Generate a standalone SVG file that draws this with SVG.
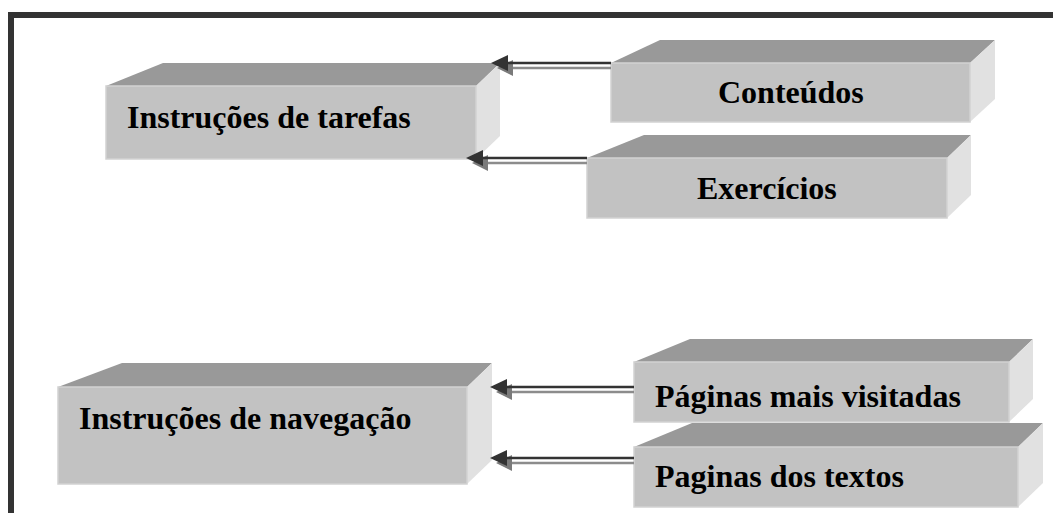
<svg xmlns="http://www.w3.org/2000/svg" width="1053" height="513" viewBox="0 0 1053 513">
<style>
.top{fill:#999999}
.front{fill:#c2c2c2;stroke:#d2d2d2;stroke-width:1.5}
.side{fill:#e1e1e1}
.lbl{font-family:"Liberation Serif","Times New Roman",serif;font-weight:bold;font-size:32px;fill:#000}
.shaft{stroke:#333333;stroke-width:2.4;fill:none}
.shadow{stroke:#8c8c8c;stroke-width:2.4;fill:none}
.head{fill:#333333}
.headsh{fill:#7a7a7a}
</style>
<rect x="0" y="0" width="1053" height="513" fill="#ffffff"/>
<g id="frame">
<rect x="8" y="12" width="1045" height="6" fill="#333333"/>
<rect x="8" y="12" width="6" height="501" fill="#333333"/>
</g>
<g id="node-tarefas">
<polygon class="top" points="106,86 163,63 500,63 476,86"/>
<polygon class="side" points="476,86 500,63 500,136 476,159"/>
<rect class="front" x="106" y="86" width="370" height="73"/>
<text class="lbl" x="127" y="128">Instruções de tarefas</text>
</g>
<g id="node-conteudos">
<polygon class="top" points="611,63 660,40 995,40 970,63"/>
<polygon class="side" points="970,63 995,40 995,99 970,122"/>
<rect class="front" x="611" y="63" width="359" height="59"/>
<text class="lbl" x="718" y="103">Conteúdos</text>
</g>
<g id="node-exercicios">
<polygon class="top" points="587,158 644,135 971,135 947,158"/>
<polygon class="side" points="947,158 971,135 971,195 947,218"/>
<rect class="front" x="587" y="158" width="360" height="60"/>
<text class="lbl" x="697" y="199">Exercícios</text>
</g>
<g id="node-navegacao">
<polygon class="top" points="58,387 122,363 492,363 467,387"/>
<polygon class="side" points="467,387 492,363 492,460 467,484"/>
<rect class="front" x="58" y="387" width="409" height="97"/>
<text class="lbl" x="79" y="429">Instruções de navegação</text>
</g>
<g id="node-visitadas">
<polygon class="top" points="634,362 690,339 1033,339 1009,362"/>
<polygon class="side" points="1009,362 1033,339 1033,399 1009,422"/>
<rect class="front" x="634" y="362" width="375" height="60"/>
<text class="lbl" x="655" y="407">Páginas mais visitadas</text>
</g>
<g id="node-textos">
<polygon class="top" points="634,447 692,423 1043,423 1018,447"/>
<polygon class="side" points="1018,447 1043,423 1043,483 1018,507"/>
<rect class="front" x="634" y="447" width="384" height="60"/>
<text class="lbl" x="655" y="487">Paginas dos textos</text>
</g>
<g id="connectors">
<g id="arrow-conteudos">
<line class="shadow" x1="611" y1="68" x2="508" y2="68"/>
<polygon class="headsh" points="497,68 513,60 513,76"/>
<line class="shaft" x1="611" y1="63" x2="504" y2="63"/>
<polygon class="head" points="491,63 508,55 508,71"/>
</g>
<g id="arrow-exercicios">
<line class="shadow" x1="587" y1="163" x2="483" y2="163"/>
<polygon class="headsh" points="472,163 488,155 488,171"/>
<line class="shaft" x1="587" y1="158" x2="479" y2="158"/>
<polygon class="head" points="466,158 483,150 483,166"/>
</g>
<g id="arrow-visitadas">
<line class="shadow" x1="634" y1="392" x2="507" y2="392"/>
<polygon class="headsh" points="496,392 512,384 512,400"/>
<line class="shaft" x1="634" y1="387" x2="503" y2="387"/>
<polygon class="head" points="490,387 507,379 507,395"/>
</g>
<g id="arrow-textos">
<line class="shadow" x1="634" y1="463" x2="507" y2="463"/>
<polygon class="headsh" points="496,463 512,455 512,471"/>
<line class="shaft" x1="634" y1="458" x2="503" y2="458"/>
<polygon class="head" points="490,458 507,450 507,466"/>
</g>
</g>
</svg>
